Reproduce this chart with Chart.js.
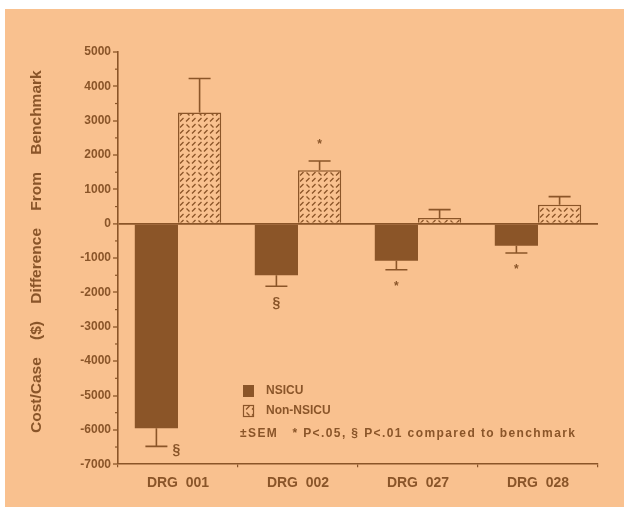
<!DOCTYPE html>
<html>
<head>
<meta charset="utf-8">
<script src="https://cdn.jsdelivr.net/npm/chart.js@4/dist/chart.umd.min.js"></script>
<style>
  html, body { margin: 0; padding: 0; background: #fff; }
  #wrap { position: absolute; left: 5px; top: 9px; width: 619px; height: 498px; background: #F9C18F; }
</style>
</head>
<body>
<div id="wrap"><canvas id="grafico" width="619" height="498"></canvas></div>
<script>
var categorias = ['DRG  001', 'DRG  002', 'DRG  027', 'DRG  028'];
var nsicu = [-5950, -1500, -1080, -640];
var nsicuSem = [530, 320, 260, 210];
var nonNsicu = [3240, 1560, 170, 550];
var nonNsicuSem = [990, 265, 240, 240];
var nsicuMarcas = ['§', '§', '*', '*'];
var nonNsicuMarcas = ['', '*', '', ''];

var naranja = '#F9C18F';
var cafe = '#8B5528';
var texto = '#8A5529';

//patron de rayitas para Non-NSICU
function patron(){
	var c = document.createElement('canvas');
	c.width = 12; c.height = 12;
	var ctx = c.getContext('2d');
	ctx.fillStyle = naranja;
	ctx.fillRect(0, 0, 12, 12);
	ctx.strokeStyle = cafe;
	ctx.lineWidth = 1.3;
	ctx.beginPath();
	ctx.moveTo(1, 4.5); ctx.lineTo(4.5, 1);
	ctx.moveTo(7, 4.5); ctx.lineTo(10.5, 1);
	ctx.moveTo(1.5, 7.5); ctx.lineTo(4.5, 10.5);
	ctx.moveTo(7, 10.5); ctx.lineTo(10.5, 7);
	ctx.stroke();
	return ctx.createPattern(c, 'repeat');
}
var rayado = patron();

var errores = {
	id: 'errores',
	afterDatasetsDraw: function(chart){
		var ctx = chart.ctx;
		var y = chart.scales.y;
		var sems = [nsicuSem, nonNsicuSem];
		var marcas = [nsicuMarcas, nonNsicuMarcas];
		ctx.save();
		ctx.strokeStyle = cafe;
		ctx.lineWidth = 1.6;
		ctx.fillStyle = texto;
		ctx.textAlign = 'center';
		ctx.textBaseline = 'middle';
		chart.data.datasets.forEach(function(ds, i){
			var meta = chart.getDatasetMeta(i);
			meta.data.forEach(function(bar, j){
				var v = ds.data[j];
				var fin = v < 0 ? v - sems[i][j] : v + sems[i][j];
				var yf = y.getPixelForValue(fin);
				ctx.beginPath();
				ctx.moveTo(bar.x, bar.y);
				ctx.lineTo(bar.x, yf);
				ctx.moveTo(bar.x - 11, yf);
				ctx.lineTo(bar.x + 11, yf);
				ctx.stroke();
				var m = marcas[i][j];
				if (m){
					ctx.font = m == '*' ? 'bold 12px "Liberation Sans", Arial' : 'bold 14px "Liberation Sans", Arial';
					var my = v < 0 ? yf + 17 : yf - 16;
					var mx = bar.x;
					if (my > chart.chartArea.bottom - 20){ mx = bar.x + 20; my = yf + 4; }
					ctx.fillText(m, mx, my);
				}
			});
		});
		ctx.restore();
	}
};

var extras = {
	id: 'extras',
	afterDraw: function(chart){
		var ctx = chart.ctx;
		var a = chart.chartArea;
		var y = chart.scales.y;
		ctx.save();
		// marcas menores del eje y
		ctx.strokeStyle = cafe;
		ctx.lineWidth = 1.2;
		for (var v = y.min + 500; v < y.max; v += 1000){
			var py = y.getPixelForValue(v);
			ctx.beginPath();
			ctx.moveTo(a.left - 3, py);
			ctx.lineTo(a.left, py);
			ctx.stroke();
		}
		// leyenda
		var lx = a.left + 125, ly = a.top + 333;
		ctx.fillStyle = cafe;
		ctx.fillRect(lx, ly, 11, 12);
		ctx.fillStyle = rayado;
		ctx.fillRect(lx, ly + 20, 11, 12);
		ctx.strokeRect(lx + 0.5, ly + 20.5, 10, 11);
		ctx.fillStyle = texto;
		ctx.textBaseline = 'middle';
		ctx.textAlign = 'left';
		ctx.font = 'bold 12px "Liberation Sans", Arial';
		ctx.fillText('NSICU', lx + 23, ly + 6);
		ctx.fillText('Non-NSICU', lx + 23, ly + 26);
		ctx.letterSpacing = '1.4px';
		ctx.fillText('±SEM   * P<.05, § P<.01 compared to benchmark', lx - 3, ly + 49);
		ctx.restore();
	}
};

window.grafico = new Chart(document.getElementById('grafico'), {
	type: 'bar',
	data: {
		labels: categorias,
		datasets: [
			{label: 'NSICU', data: nsicu, backgroundColor: cafe, borderWidth: 0},
			{label: 'Non-NSICU', data: nonNsicu, backgroundColor: rayado, borderColor: cafe, borderWidth: 1.5}
		]
	},
	options: {
		responsive: false,
		animation: false,
		layout: {padding: {top: 43, right: 26, bottom: 7, left: 0}},
		categoryPercentage: 0.72,
		barPercentage: 1,
		plugins: {legend: {display: false}, tooltip: {enabled: false}},
		scales: {
			x: {
				grid: {display: true, drawOnChartArea: false, tickLength: 3, color: cafe, lineWidth: 1.2, offset: true},
				border: {color: cafe, width: 1.6},
				ticks: {color: texto, font: {family: '"Liberation Sans", Arial', size: 14, weight: 'bold'}, padding: 8}
			},
			y: {
				min: -7000, max: 5000,
				afterFit: function(s){ s.width = 113; },
				ticks: {
					stepSize: 1000, color: texto, padding: 2,
					font: {family: '"Liberation Sans", Arial', size: 12, weight: 'bold'},
					callback: function(v){ return String(v); }
				},
				grid: {
					tickLength: 5,
					tickColor: cafe,
					tickWidth: 1.3,
					color: function(c){ return c.tick && c.tick.value === 0 ? cafe : 'transparent'; },
					lineWidth: function(c){ return c.tick && c.tick.value === 0 ? 1.8 : 0; }
				},
				border: {color: cafe, width: 1.6},
				title: {
					display: true,
					text: '   Cost/Case    ($)    Difference    From    Benchmark',
					color: texto,
					font: {family: '"Liberation Sans", Arial', size: 15.5, weight: 'bold'},
					padding: {top: 22, bottom: 0}
				}
			}
		}
	},
	plugins: [errores, extras]
});
</script>
</body>
</html>
